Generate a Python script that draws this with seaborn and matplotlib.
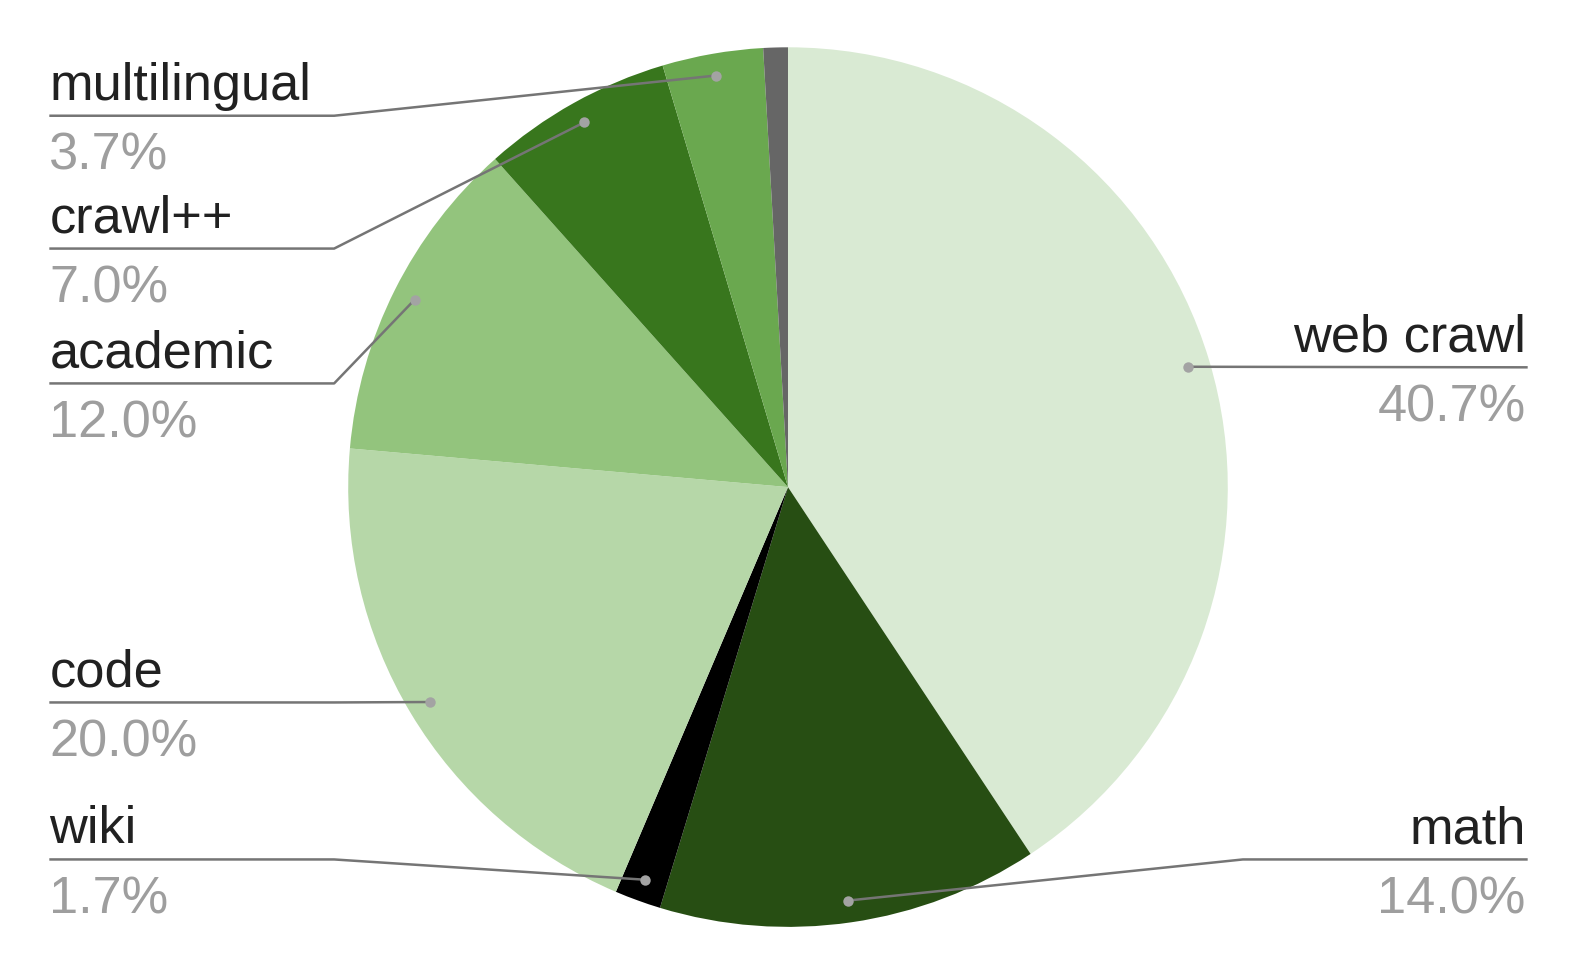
import matplotlib
matplotlib.use("Agg")
import matplotlib.pyplot as plt
import seaborn as sns
import numpy as np

# ---- data ----
categories = ["web crawl", "math", "wiki", "code", "academic", "crawl++", "multilingual", "other"]
shares = [40.7, 14.0, 1.7, 20.0, 12.0, 7.0, 3.7, 0.9]
pct_labels = ["40.7%", "14.0%", "1.7%", "20.0%", "12.0%", "7.0%", "3.7%", ""]
slice_colors = ["#d9ead3", "#274e13", "#000000", "#b6d7a8", "#93c47d", "#38761d", "#6aa84f", "#666666"]

# ---- layout (pixel coordinates of the 1578x976 canvas) ----
W, H = 1578, 976
S = W / 1568.0
CX, CY, R = 783 * S, 484 * S, 437 * S
# label side, y of underline, elbow x
label_layout = {
    "web crawl": ("right", 365 * S, None),
    "math": ("right", 854 * S, 1235 * S),
    "wiki": ("left", 854 * S, 332 * S),
    "code": ("left", 698 * S, 332 * S),
    "academic": ("left", 381 * S, 332 * S),
    "crawl++": ("left", 247 * S, 332 * S),
    "multilingual": ("left", 115 * S, 332 * S),
}
LEFT_X = 49 * S
RIGHT_X = 1518 * S

sns.set_theme(style="white")
plt.rcParams["font.family"] = ["Liberation Sans", "DejaVu Sans"]

fig = plt.figure(figsize=(W / 100, H / 100), dpi=100)
ax = fig.add_axes([0, 0, 1, 1])

def Y(yp):
    return H - yp

wedges, _ = ax.pie(shares, colors=slice_colors, startangle=90, counterclock=False,
                   center=(CX, Y(CY)), radius=R, frame=True,
                   wedgeprops=dict(linewidth=0, antialiased=True))
ax.set_xlim(0, W)
ax.set_ylim(0, H)
ax.set_aspect("equal")
ax.axis("off")

LINE_C = "#757575"
DOT_C = "#a3a3a3"
TXT_C = "#212121"
PCT_C = "#9e9e9e"
FS = 37.7

for w, name, pct in zip(wedges, categories, pct_labels):
    if name not in label_layout:
        continue
    side, ly, ex = label_layout[name]
    mid = np.deg2rad((w.theta1 + w.theta2) / 2)
    dx = CX + 0.95 * R * np.cos(mid)
    dy = Y(CY) + 0.95 * R * np.sin(mid)
    if side == "left":
        xs = [LEFT_X, ex, dx] if ex is not None else [LEFT_X, dx]
        ys = [Y(ly), Y(ly), dy] if ex is not None else [Y(ly), dy]
        tx, ha = LEFT_X, "left"
    else:
        xs = [RIGHT_X, ex, dx] if ex is not None else [RIGHT_X, dx]
        ys = [Y(ly), Y(ly), dy] if ex is not None else [Y(ly), dy]
        tx, ha = RIGHT_X - 2, "right"
    ax.plot(xs, ys, color=LINE_C, lw=1.8, solid_capstyle="butt", zorder=3)
    ax.plot([dx], [dy], "o", color=DOT_C, ms=7.5, mec="none", zorder=4)
    ax.text(tx, Y(ly - 16), name, ha=ha, va="baseline", fontsize=FS, color=TXT_C)
    ax.text(tx, Y(ly + 54), pct, ha=ha, va="baseline", fontsize=FS, color=PCT_C)

fig.savefig("out.png", dpi=100, facecolor="white")
